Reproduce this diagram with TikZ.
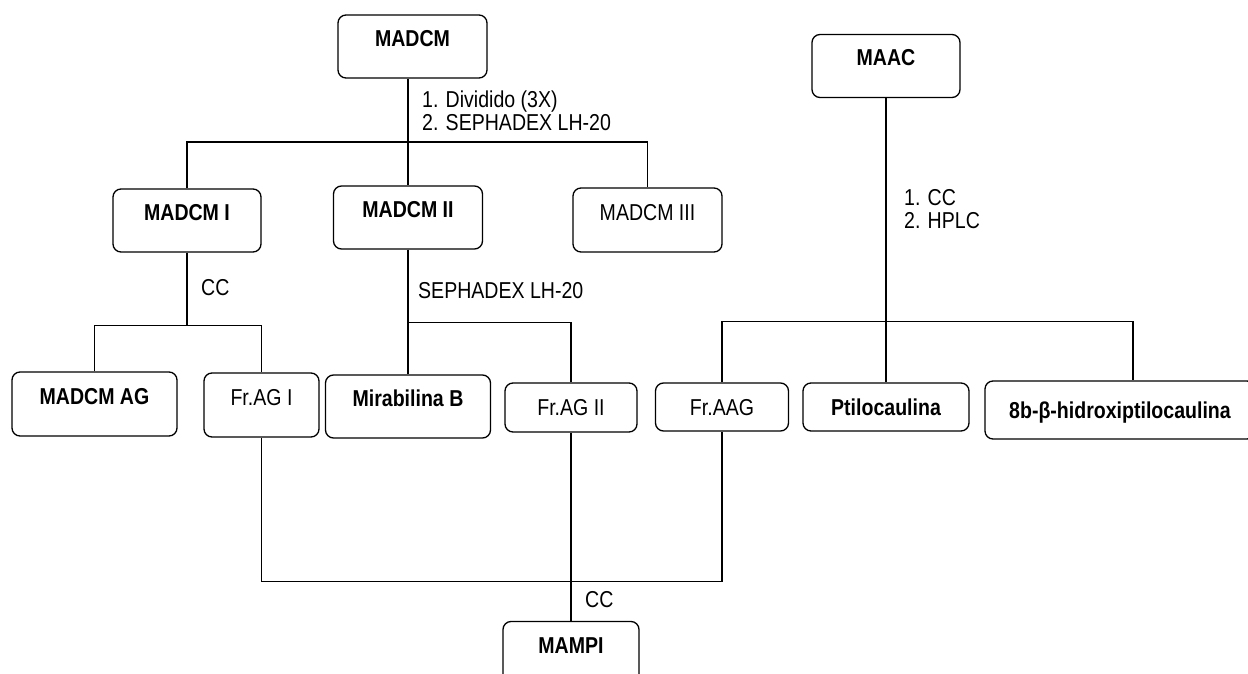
\documentclass[tikz,border=0pt]{standalone}
\usepackage{fontspec}
\setmainfont{Liberation Sans}[FakeStretch=0.85]
\newcommand{\diagfont}{\fontsize{23}{23}\selectfont}
\tikzset{
	box/.style={
		draw,
		rounded corners=8pt,
		line width=1.3pt,
		inner sep=0pt,
		text height=0pt,
		text depth=0pt,
		font=\diagfont
	},
	flat/.style={
		box,
		text height=16.5pt
	},
	heavy/.append style={
		font=\diagfont\bfseries
	},
	link/.style={
		line width=1.3pt
	}
}

\begin{document}
\begin{tikzpicture}[
	x=1pt, y=-1pt,
	method/.style = {font=\diagfont, inner sep=0pt, align=left, anchor=west}
	]
	\useasboundingbox (0,0) rectangle (1248,674);
	
	% first level
	\node[box, heavy, minimum width=149pt, minimum height=63pt] (madcm) at (412.5,46.5) {MADCM};
	\node[box, heavy, minimum width=148pt, minimum height=63pt] (maac) at (886,66) {MAAC};
	
	\node[box, heavy, minimum width=148pt, minimum height=63pt] (madcm1) at (187,220.5) {MADCM I};
	\node[box, heavy, minimum width=149pt, minimum height=63pt] (madcm2) at (408,217.5) {MADCM II};
	\node[box, minimum width=149pt, minimum height=64pt] (madcm3) at (647.5,220) {MADCM III};
	
	% fractions
	\node[box, heavy, minimum width=165pt, minimum height=64pt] (madcmag) at (94.5,404) {MADCM AG};
	\node[box, minimum width=115pt, minimum height=64pt] (frag1) at (261.5,405) {Fr.AG I};
	\node[box, heavy, minimum width=165pt, minimum height=63pt] (mirab) at (408,406.5) {Mirabilina B};
	\node[flat, minimum width=132pt, minimum height=49pt] (frag2) at (571,407.5) {Fr.AG II};
	\node[flat, minimum width=133pt, minimum height=48pt] (fraag) at (722,407) {Fr.AAG};
	\node[flat, heavy, minimum width=166pt, minimum height=48pt] (ptilo) at (886,407) {Ptilocaulina};
	\node[flat, heavy, minimum width=270pt, minimum height=58pt] (hidrox) at (1120,410) {8b-β-hidroxiptilocaulina};
	
	\node[box, heavy, minimum width=136pt, minimum height=63pt] (mampi) at (571,653) {MAMPI};
	
	% connectors
	\draw[link] (madcm2.north |- madcm.south) -- (madcm2.north);
	\draw[link] (madcm1.north) |- (madcm2.north |- 0,142) -| (madcm3.north);
	
	\draw[link] (madcm1.south) -- ++(0,73) coordinate (cut1);
	\draw[link] (madcmag.north) |- (cut1) -| (frag1.north);
	
	\draw[link] (madcm2.south) -- ++(0,73) coordinate (cut2);
	\draw[link] (mirab.north) |- (cut2) -| (frag2.north);
	
	\draw[link] (maac.south) -- ++(0,223.5) coordinate (cut3);
	\draw[link] (fraag.north) |- (cut3) -| ([xshift=13pt]hidrox.north);
	\draw[link] (cut3) -- (ptilo.north);
	
	\draw[link] (frag1.south) -- ++(0,144) -| (fraag.south);
	\draw[link] (frag2.south) -- (mampi.north);
	
	% methods
	\node[method] (split) at (422,110.5) {1. Dividido (3X)\\2. SEPHADEX LH-20};
	\node[method] (cc1) at (201,288) {CC};
	\node[method] (seph) at (418,291) {SEPHADEX LH-20};
	\node[method] (hplc) at (904,209.5) {1. CC\\2. HPLC};
	\node[method] (cc2) at (585,600) {CC};
	
\end{tikzpicture}
\end{document}
